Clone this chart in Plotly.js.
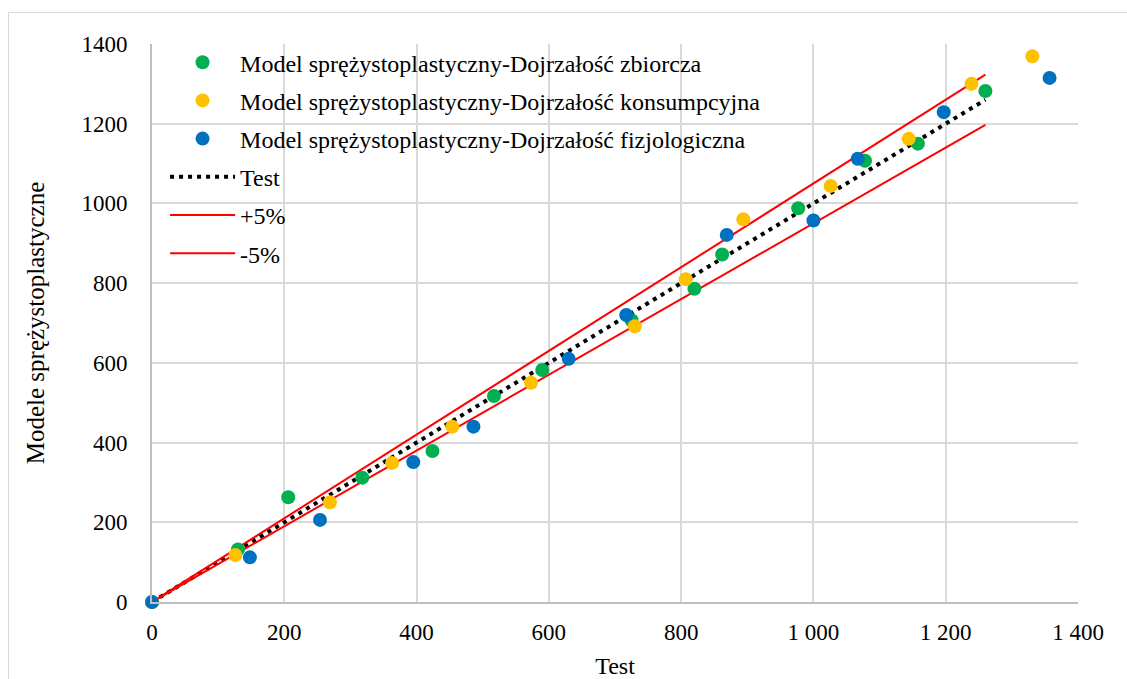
<!DOCTYPE html>
<html>
<head>
<meta charset="utf-8">
<script src="https://cdn.plot.ly/plotly-3.0.1.min.js"></script>
<style>
  html, body { margin: 0; padding: 0; background: #fff; overflow: hidden; }
  #chart { width: 1127px; height: 679px; }
  #frame { position: absolute; left: 8px; top: 12px; width: 1200px; height: 800px;
           border: 1px solid #d9d9d9; pointer-events: none; }
</style>
</head>
<body>
<div id="chart"></div>
<div id="frame"></div>
<script>
// Test values (x) against elasto-plastic model results (y), one series per maturity stage
const zbiorczaX = [0, 130, 206, 318, 424, 517, 590, 725, 820, 862, 977, 1078, 1158, 1260];
const zbiorczaY = [0, 132, 263, 312, 379, 517, 582, 707, 786, 872, 988, 1107, 1150, 1282];

const konsumpcyjnaX = [0, 126, 269, 363, 454, 573, 730, 807, 894, 1026, 1144, 1239, 1331];
const konsumpcyjnaY = [0, 118, 250, 349, 440, 550, 692, 810, 960, 1044, 1162, 1300, 1369];

const fizjologicznaX = [0, 148, 254, 395, 486, 630, 717, 869, 1000, 1067, 1197, 1357];
const fizjologicznaY = [0, 112, 206, 351, 440, 610, 720, 921, 957, 1112, 1229, 1315];

// Reference line (model = test) and the ±5% band
const testX = [0, 1260];
const testY = [0, 1260];
const plus5Y = [0, 1323];
const minus5Y = [0, 1197];

const axisTicks = [0, 200, 400, 600, 800, 1000, 1200, 1400];

const names = {
  zbiorcza: 'Model sprężystoplastyczny-Dojrzałość zbiorcza',
  konsumpcyjna: 'Model sprężystoplastyczny-Dojrzałość konsumpcyjna',
  fizjologiczna: 'Model sprężystoplastyczny-Dojrzałość fizjologiczna',
  test: 'Test',
  plus: '+5%',
  minus: '-5%'
};

const serif = '"Liberation Serif", serif';

function pointSeries(x, y, name, color, rank) {
  return {
    type: 'scatter', mode: 'markers', x: x, y: y, name: name,
    legendgroup: name, legendrank: rank, cliponaxis: false,
    marker: { size: 14, color: color, line: { width: 0 } },
    hoverinfo: 'x+y'
  };
}

function lineSeries(x, y, name, color, width, dash, rank) {
  return {
    type: 'scatter', mode: 'lines', x: x, y: y, name: name,
    legendgroup: name, legendrank: rank,
    line: { color: color, width: width, dash: dash },
    hoverinfo: 'x+y'
  };
}

const data = [
  lineSeries(testX, testY, names.test, '#000000', 4, '4px,5px', 4),
  lineSeries(testX, plus5Y, names.plus, '#ff0000', 2, 'solid', 5),
  lineSeries(testX, minus5Y, names.minus, '#ff0000', 2, 'solid', 6),
  pointSeries(zbiorczaX, zbiorczaY, names.zbiorcza, '#00b050', 1),
  pointSeries(konsumpcyjnaX, konsumpcyjnaY, names.konsumpcyjna, '#ffc000', 2),
  pointSeries(fizjologicznaX, fizjologicznaY, names.fizjologiczna, '#0070c0', 3)
];

const layout = {
  width: 1127, height: 679,
  margin: { l: 152, r: 49, t: 44, b: 77 },
  paper_bgcolor: '#ffffff', plot_bgcolor: '#ffffff',
  separators: '. ',
  font: { family: serif, size: 23, color: '#000000' },
  showlegend: true,
  legend: {
    x: 0.0141, xanchor: 'left', xref: 'paper',
    y: 1.007, yanchor: 'top', yref: 'paper',
    bgcolor: 'rgba(0,0,0,0)', borderwidth: 0,
    font: { family: serif, size: 24, color: '#000000' },
    itemwidth: 65, tracegroupgap: 4, traceorder: 'grouped'
  },
  xaxis: {
    range: [0, 1400], tickvals: axisTicks, separatethousands: true,
    showgrid: true, gridcolor: '#d9d9d9', gridwidth: 2,
    zeroline: false, showline: true, linecolor: '#bfbfbf', linewidth: 2,
    mirror: false, ticks: '', ticklabelstandoff: 8,
    tickfont: { family: serif, size: 23, color: '#000000' },
    title: { text: 'Test', font: { family: serif, size: 24, color: '#000000' }, standoff: 14 },
    automargin: false, fixedrange: true
  },
  yaxis: {
    range: [0, 1400], tickvals: axisTicks, separatethousands: false,
    showgrid: true, gridcolor: '#d9d9d9', gridwidth: 2,
    zeroline: false, showline: true, linecolor: '#bfbfbf', linewidth: 2,
    ticks: '', ticklabelstandoff: 18,
    tickfont: { family: serif, size: 23, color: '#000000' },
    title: { text: 'Modele sprężystoplastyczne', font: { family: serif, size: 25, color: '#000000' }, standoff: 30 },
    automargin: false, fixedrange: true
  }
};

Plotly.newPlot('chart', data, layout, { displayModeBar: false, staticPlot: true });
</script>
</body>
</html>
